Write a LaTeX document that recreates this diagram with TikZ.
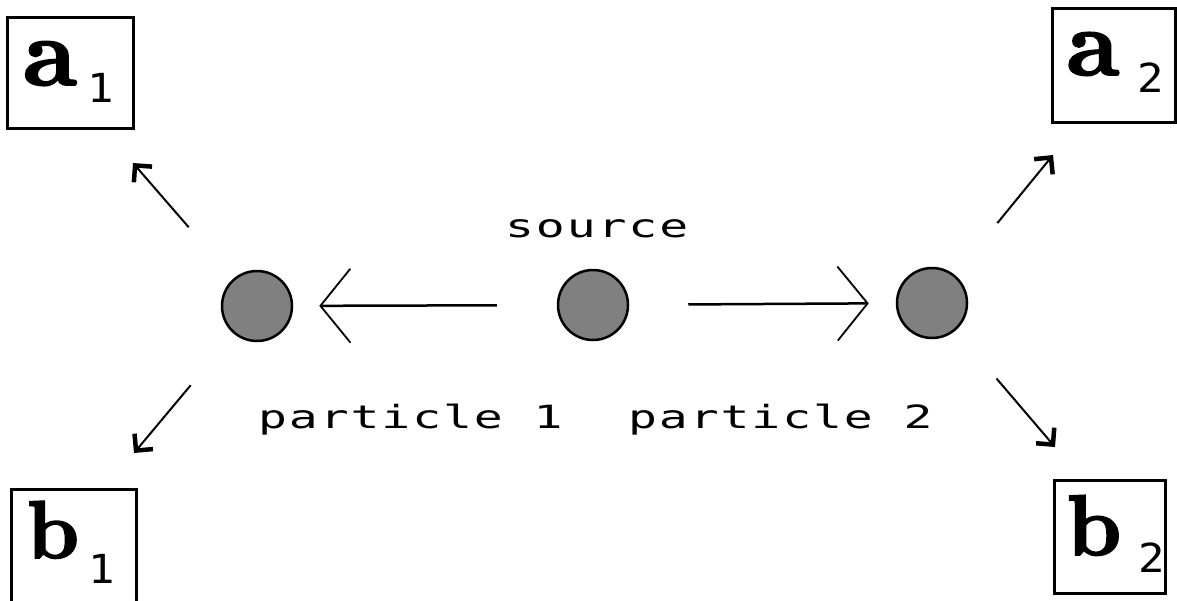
\documentclass[tikz,border=0pt]{standalone}
\usepackage{fontspec}
\usetikzlibrary{arrows.meta}
\newfontfamily\dotfont[FakeStretch=1.5,LetterSpace=6]{DejaVu Sans Mono}
\newfontfamily\subfont[FakeStretch=1.1]{DejaVu Sans Mono}
\newfontfamily\bigfont[Extension=.otf,UprightFont=*-bold,FakeBold=2]{lmroman10}
\tikzset{
  particle/.style={circle,draw=black,line width=2.5pt,fill=black!50,minimum size=70pt,inner sep=0pt},
  detector/.style={rectangle,draw=black,line width=3pt,inner sep=0pt},
  bigletter/.style={inner sep=0pt,anchor=base},
  subidx/.style={inner sep=0pt,anchor=base,font=\subfont\fontsize{40}{40}\selectfont},
  label/.style={inner sep=0pt,anchor=base west,font=\dotfont\fontsize{32}{32}\selectfont},
  mainarrow/.style={line width=2.5pt,-{Straight Barb[length=30pt,width=74pt,line width=1.8pt]}},
  sidearrow/.style={line width=2pt,-{Straight Barb[length=12pt,width=24pt,line width=4.5pt]}}
}
\begin{document}
\begin{tikzpicture}[x=1pt,y=-1pt]
\useasboundingbox[fill=white] (0,0) rectangle (1177,600);
% detector boxes
\node[detector,minimum width=126pt,minimum height=111pt] (a1) at (70,72.5) {};
\node[detector,minimum width=125pt,minimum height=113pt] (b1) at (73.5,545.5) {};
\node[detector,minimum width=123pt,minimum height=114pt] (a2) at (1113.5,65) {};
\node[detector,minimum width=111pt,minimum height=113pt] (b2) at (1109.5,536.5) {};
% box labels
\node[bigletter,font=\bigfont\fontsize{96}{96}\selectfont] (la1) at (50,85) {a};
\node[subidx] (sa1) at (101,102) {1};
\node[bigletter,font=\bigfont\fontsize{82}{82}\selectfont] (lb1) at (53,558) {b};
\node[subidx] (sb1) at (102,583) {1};
\node[bigletter,font=\bigfont\fontsize{94}{94}\selectfont] (la2) at (1093,75) {a};
\node[subidx] (sa2) at (1151,92) {2};
\node[bigletter,font=\bigfont\fontsize{86}{86}\selectfont] (lb2) at (1094,555) {b};
\node[subidx] (sb2) at (1152,572) {2};
% particles
\node[particle] (p1) at (257,306) {};
\node[particle] (src) at (593,305) {};
\node[particle] (p2) at (932,303) {};
% texts
\node[label] (tsrc) at (505,237) {source};
\node[label] (tp1) at (258,428) {particle 1};
\node[label] (tp2) at (628,428) {particle 2};
% main arrows
\draw[mainarrow,shorten <=60pt,shorten >=26pt] (src) -- (p1);
\draw[mainarrow,shorten <=59pt,shorten >=27pt] (src) -- (p2);
% side arrows
\coordinate (tul) at (133,163);
\coordinate (tll) at (134,453);
\coordinate (tur) at (1053,155);
\coordinate (tlr) at (1055,447);
\draw[sidearrow,shorten <=68pt] (p1) -- (tul);
\draw[sidearrow,shorten <=67pt] (p1) -- (tll);
\draw[sidearrow,shorten <=67pt] (p2) -- (tur);
\draw[sidearrow,shorten <=63pt] (p2) -- (tlr);
\end{tikzpicture}
\end{document}
